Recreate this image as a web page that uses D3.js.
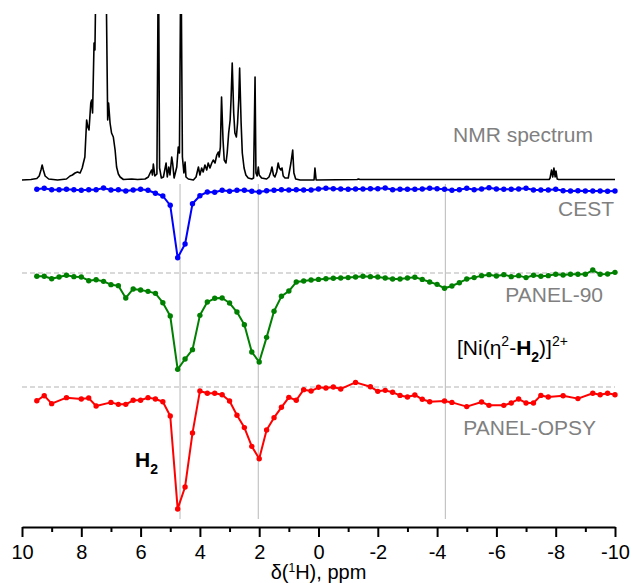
<!DOCTYPE html>
<html>
<head>
<meta charset="utf-8">
<script src="https://cdn.jsdelivr.net/npm/d3@7"></script>
<style>
body { margin: 0; background: #fff; }
text { font-family: "Liberation Sans", Arial, sans-serif; }
</style>
</head>
<body>
<div id="chart"></div>
<script>
const width = 632;
const height = 583;

// 1H NMR spectrum, [ppm, intensity] (tall peaks run off the top)
const nmrSpectrum = [
  [10.0,0],[9.7,0.005],[9.5,0.015],[9.42,0.04],[9.36,0.1],[9.32,0.15],[9.28,0.1],[9.22,0.04],[9.1,0.01],
  [8.8,0],[8.5,0.01],[8.38,0.04],[8.3,0.05],[8.21,0.07],[8.13,0.08],[8.04,0.07],[7.97,0.12],[7.93,0.17],
  [7.88,0.23],[7.82,0.6],[7.78,0.53],[7.74,0.5],[7.68,0.77],[7.65,0.8],[7.62,0.67],[7.57,1.37],[7.54,1.3],
  [7.5,2.2],[7.4,2.6],[7.3,2.6],[7.17,2.2],[7.11,0.6],[7.08,0.77],[7.03,0.57],[6.98,0.47],[6.92,0.43],
  [6.86,0.3],[6.81,0.13],[6.75,0.06],[6.69,0.03],[6.58,0.005],[6.3,0.01],[6.1,0.005],[5.85,0.01],
  [5.74,0.03],[5.68,0.07],[5.63,0.1],[5.6,0.05],[5.57,0.16],[5.52,0.04],[5.45,0.06],[5.40,2.4],
  [5.36,0.12],[5.30,0.02],[5.23,0.03],[5.14,0.17],[5.1,0.03],[5.05,0.13],[5.01,0.05],[4.95,0.23],
  [4.92,0.17],[4.87,0.02],[4.78,0.13],[4.73,0.33],[4.69,0.27],[4.64,2.4],[4.59,0.23],[4.54,0.07],
  [4.5,0.18],[4.47,0.03],[4.39,0.01],[4.22,0],[4.13,0.03],[4.05,0.13],[4.0,0.05],[3.94,0.12],[3.89,0.08],
  [3.83,0.15],[3.77,0.1],[3.72,0.17],[3.66,0.12],[3.6,0.17],[3.55,0.2],[3.49,0.17],[3.43,0.25],
  [3.38,0.28],[3.35,0.23],[3.31,0.33],[3.27,0.83],[3.22,0.4],[3.18,0.2],[3.12,0.17],[3.08,0.27],
  [3.03,0.47],[2.98,0.6],[2.95,0.8],[2.91,1.17],[2.86,0.67],[2.82,0.47],[2.77,0.43],[2.73,0.57],
  [2.69,0.8],[2.66,1.12],[2.61,0.57],[2.57,0.27],[2.51,0.12],[2.45,0.05],[2.37,0.02],[2.25,0.01],
  [2.19,0.02],[2.14,1.03],[2.11,0.07],[2.07,0.04],[2.03,0.13],[2.0,0.05],[1.92,0.02],[1.75,0.01],
  [1.67,0.03],[1.61,0.08],[1.57,0.13],[1.52,0.05],[1.47,0.03],[1.41,0.08],[1.36,0.17],[1.32,0.12],
  [1.27,0.1],[1.23,0.12],[1.19,0.04],[1.13,0.02],[1.02,0.02],[0.93,0.17],[0.87,0.3],[0.83,0.07],
  [0.77,0.01],[0.62,0],[0.15,0],[0.12,0.12],[0.08,0],[-1.3,0.005],[-1.35,0.01],[-1.4,0.005],
  [-7.78,0.005],[-7.81,0.02],[-7.86,0.1],[-7.9,0.03],[-7.94,0.12],[-7.98,0.03],[-8.01,0.09],
  [-8.05,0.01],[-8.1,0.005],[-10,0.005]
];

// saturation offsets (ppm) for CEST and PANEL-90
const offsets = [
  9.5,9.25,9,8.75,8.5,8.25,8,7.75,7.5,7.25,7,6.75,6.5,6.25,6,5.75,5.5,5.25,5,4.75,
  4.5,4.25,4,3.75,3.5,3.25,3,2.75,2.5,2.25,2,1.75,1.5,1.25,1,0.75,0.5,0.25,0,-0.25,
  -0.5,-0.75,-1,-1.25,-1.5,-1.75,-2,-2.25,-2.5,-2.75,-3,-3.25,-3.5,-3.75,-4,-4.25,-4.5,-4.75,-5,-5.25,
  -5.5,-5.75,-6,-6.25,-6.5,-6.75,-7,-7.25,-7.5,-7.75,-8,-8.25,-8.5,-8.75,-9,-9.25,-9.5,-9.75,-10
];

const cest = [
  0.997,1.007,0.993,0.993,0.997,0.993,0.987,0.993,0.993,1.010,
  0.990,0.993,0.980,0.990,0.997,0.987,0.957,0.930,0.837,0.313,
  0.450,0.853,0.933,0.970,0.967,0.987,0.977,0.987,0.987,0.977,
  0.970,0.983,0.987,0.993,0.990,0.993,0.990,0.990,1.000,1.007,
  1.003,1.000,0.997,1.000,1.000,1.003,1.003,1.010,0.993,0.997,
  0.997,0.997,1.000,1.007,1.003,0.997,0.987,0.993,1.007,0.993,
  1.000,1.013,1.000,0.997,0.997,1.000,1.007,0.990,0.990,0.990,
  0.997,0.983,0.980,0.983,0.980,0.980,0.980,0.977,0.980
];

const panel90 = [
  0.970,0.970,0.948,0.964,0.979,0.967,0.964,0.930,0.939,0.924,
  0.894,0.885,0.773,0.855,0.845,0.833,0.815,0.730,0.609,0.124,
  0.218,0.303,0.615,0.736,0.770,0.773,0.727,0.645,0.530,0.282,
  0.191,0.415,0.652,0.788,0.836,0.918,0.927,0.936,0.942,0.948,
  0.952,0.955,0.958,0.964,0.970,0.967,0.964,0.955,0.945,0.945,
  0.955,0.961,0.942,0.918,0.897,0.861,0.882,0.912,0.945,0.958,
  0.976,0.985,0.973,0.985,0.967,0.976,0.958,0.979,0.970,0.976,
  0.988,0.982,0.988,0.988,0.988,1.027,0.988,0.991,1.006
];

// PANEL-OPSY was sampled on a sparser set of offsets
const opsyOffsets = [
  9.5,9.25,9,8.5,8,7.75,7.5,7,6.75,6.5,6.25,6,5.75,5.5,5.25,5,4.75,4.5,4.25,4,
  3.75,3.5,3.25,3,2.75,2.5,2.25,2,1.75,1.5,1.25,1,0.75,0.5,0.25,0,-0.25,-0.5,-0.75,-1.25,
  -1.75,-2,-2.25,-2.5,-2.75,-3,-3.25,-3.5,-3.75,-4.25,-4.5,-5,-5.5,-5.75,-6.25,-6.5,-6.75,-7,-7.25,-7.5,
  -7.75,-8.25,-8.75,-9.25,-9.5,-9.75,-10
];
const panelOpsy = [
  0.902,0.938,0.881,0.924,0.914,0.921,0.864,0.890,0.876,0.876,0.905,0.905,0.924,0.914,0.895,0.793,0.129,0.286,0.671,0.971,
  0.955,0.955,0.945,0.900,0.798,0.710,0.576,0.488,0.693,0.781,0.855,0.926,0.905,0.981,0.971,0.998,0.993,1.000,0.986,1.033,
  1.002,0.969,0.976,0.962,0.940,0.929,0.943,0.912,0.895,0.900,0.890,0.860,0.893,0.869,0.869,0.886,0.914,0.886,0.886,0.940,
  0.929,0.938,0.917,0.955,0.945,0.955,0.945
];

const markerLines = [4.67, 2.03, -4.28];
const majorTicks = [10, 8, 6, 4, 2, 0, -2, -4, -6, -8, -10];
const minorTicks = [9, 7, 5, 3, 1, -1, -3, -5, -7, -9];

const svg = d3.select("#chart")
    .append("svg")
    .attr("width", width)
    .attr("height", height);

const x = d3.scaleLinear().domain([10, -10]).range([22, 615]);
const yNmr = d3.scaleLinear().domain([0, 1]).range([180, 80]);
const yCest = d3.scaleLinear().domain([0, 1]).range([289, 189]);
const yP90 = d3.scaleLinear().domain([0, 1]).range([383, 273]);
const yOpsy = d3.scaleLinear().domain([0, 1]).range([527, 387]);

svg.append("clipPath").attr("id", "clip")
  .append("rect").attr("x", 0).attr("y", 14).attr("width", width).attr("height", 520);

// grey guide lines at the resonances
svg.selectAll(".guide")
  .data(markerLines)
  .enter().append("line")
    .attr("x1", d => x(d)).attr("x2", d => x(d))
    .attr("y1", 184).attr("y2", 519)
    .attr("stroke", "#c4c4c4")
    .attr("stroke-width", 1.2);

// reference levels of the PANEL traces
[yP90(1), yOpsy(1)].forEach(yy => {
  svg.append("line")
    .attr("x1", x(10)).attr("x2", x(-10))
    .attr("y1", yy).attr("y2", yy)
    .attr("stroke", "#b4b4b4")
    .attr("stroke-width", 1.2)
    .attr("stroke-dasharray", "5,3");
});

// NMR spectrum
svg.append("path")
  .attr("clip-path", "url(#clip)")
  .attr("fill", "none")
  .attr("stroke", "black")
  .attr("stroke-width", 1.6)
  .attr("stroke-linejoin", "round")
  .attr("d", d3.line().x(d => x(d[0])).y(d => yNmr(d[1]))(nmrSpectrum));

function drawTrace(xs, vals, yScale, color) {
  const pts = xs.map((p, i) => [x(p), yScale(vals[i])]);
  svg.append("path")
    .attr("fill", "none")
    .attr("stroke", color)
    .attr("stroke-width", 2)
    .attr("stroke-linejoin", "round")
    .attr("d", d3.line()(pts));
  svg.append("g").selectAll("circle")
    .data(pts)
    .enter().append("circle")
      .attr("cx", d => d[0])
      .attr("cy", d => d[1])
      .attr("r", 2.7)
      .attr("fill", color);
}

drawTrace(offsets, cest, yCest, "#0000ff");
drawTrace(offsets, panel90, yP90, "#008000");
drawTrace(opsyOffsets, panelOpsy, yOpsy, "#ff0000");

// x axis
const axis = svg.append("g")
  .attr("transform", "translate(0,527)")
  .call(d3.axisBottom(x).tickValues(majorTicks).tickSize(10).tickSizeOuter(0)
    .tickPadding(8).tickFormat(d => String(d)));
axis.select(".domain").attr("stroke-width", 2.2);
axis.selectAll(".tick line").attr("stroke-width", 2);
axis.selectAll(".tick text")
  .attr("font-size", 20)
  .attr("font-family", "Liberation Sans, Arial, sans-serif")
  .attr("fill", "black");

const minor = svg.append("g")
  .attr("transform", "translate(0,527)")
  .call(d3.axisBottom(x).tickValues(minorTicks).tickSize(5).tickFormat(""));
minor.select(".domain").remove();
minor.selectAll(".tick line").attr("stroke-width", 2);

const title = svg.append("text")
  .attr("x", x(0)).attr("y", 579)
  .attr("text-anchor", "middle")
  .attr("font-size", 20);
title.append("tspan").text("δ(");
title.append("tspan").attr("dy", -7).attr("font-size", 12).text("1");
title.append("tspan").attr("dy", 7).text("H), ppm");

// trace labels
const grey = "#808080";
[["NMR spectrum", 593, 142], ["CEST", 614, 216], ["PANEL-90", 603, 302], ["PANEL-OPSY", 596, 435]]
  .forEach(([t, lx, ly]) => {
    svg.append("text")
      .attr("x", lx).attr("y", ly)
      .attr("text-anchor", "end")
      .attr("font-size", 21)
      .attr("fill", grey)
      .text(t);
  });

const ni = svg.append("text")
  .attr("x", 457).attr("y", 355)
  .attr("font-size", 21);
ni.append("tspan").text("[Ni(η");
ni.append("tspan").attr("dy", -9).attr("font-size", 14).text("2");
ni.append("tspan").attr("dy", 9).text("-");
ni.append("tspan").attr("font-weight", "bold").text("H");
ni.append("tspan").attr("dy", 7).attr("font-size", 14).attr("font-weight", "bold").text("2");
ni.append("tspan").attr("dy", -7).text(")]");
ni.append("tspan").attr("dy", -9).attr("font-size", 14).text("2+");

const h2 = svg.append("text")
  .attr("x", 135).attr("y", 467)
  .attr("font-size", 21)
  .attr("font-weight", "bold");
h2.append("tspan").text("H");
h2.append("tspan").attr("dy", 7).attr("font-size", 14).text("2");
</script>
</body>
</html>
